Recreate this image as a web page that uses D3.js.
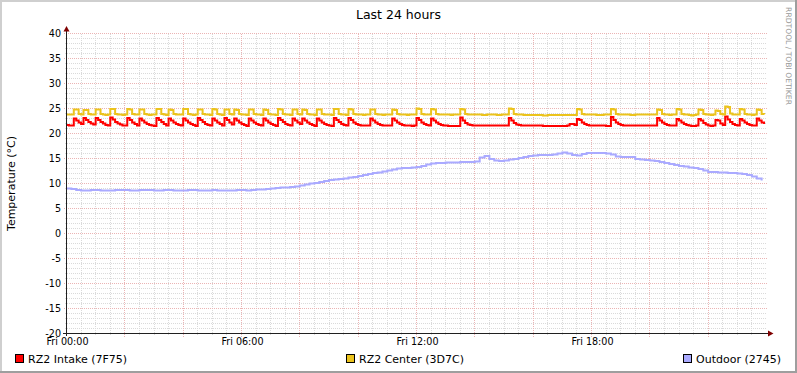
<!DOCTYPE html>
<html>
<head>
<meta charset="utf-8">
<script src="https://cdn.jsdelivr.net/npm/d3@7"></script>
<style>
  body { margin: 0; background: #fff; }
  svg { display: block; font-family: "DejaVu Sans", sans-serif; }
</style>
</head>
<body>
<div id="chart"></div>
<script>
// 5 minute samples, Fri 00:00 .. 23:55
const intake = [
  21.7, 21.6, 21.6, 23.0, 22.6, 22.2, 21.9, 23.1, 22.7, 22.3, 22.0, 21.8,
  23.1, 22.7, 22.3, 22.0, 21.7, 21.6, 23.2, 22.8, 22.3, 22.0, 21.8, 21.6,
  21.6, 23.1, 22.7, 22.2, 21.9, 21.6, 23.0, 22.6, 22.2, 21.9, 21.7, 21.6,
  21.5, 23.1, 22.7, 22.3, 21.9, 21.6, 23.0, 22.6, 22.2, 21.9, 21.7, 21.6,
  23.0, 22.6, 22.2, 21.9, 21.7, 21.5, 23.1, 22.7, 22.3, 21.9, 21.7, 21.6,
  23.0, 22.6, 22.2, 21.9, 21.6, 23.1, 22.7, 22.2, 21.8, 23.0, 22.6, 22.2,
  21.9, 21.7, 21.5, 23.0, 22.6, 22.2, 21.9, 21.7, 21.6, 23.0, 22.6, 22.2,
  21.9, 21.7, 21.5, 23.1, 22.7, 22.3, 21.9, 21.7, 21.6, 23.0, 22.6, 22.2,
  21.9, 23.0, 22.6, 22.2, 21.9, 21.7, 21.5, 23.0, 22.6, 22.2, 21.9, 21.7,
  21.6, 21.5, 23.1, 22.7, 22.3, 21.9, 21.7, 21.6, 23.1, 22.7, 22.2, 21.9,
  21.7, 21.6, 21.6, 21.6, 21.6, 23.0, 22.6, 22.2, 21.9, 21.7, 21.6, 21.6,
  21.6, 21.6, 23.0, 22.6, 22.2, 21.9, 21.7, 21.6, 21.6, 21.6, 21.5, 21.6,
  23.1, 22.7, 22.2, 21.9, 21.7, 21.6, 23.0, 22.6, 22.2, 21.9, 21.7, 21.6,
  21.6, 21.5, 21.5, 21.5, 21.5, 21.5, 23.2, 22.6, 22.1, 21.8, 21.7, 21.6,
  21.6, 21.6, 21.6, 21.6, 21.6, 21.6, 21.6, 21.6, 21.6, 21.6, 21.6, 21.6,
  21.6, 21.6, 23.1, 22.6, 22.1, 21.8, 21.7, 21.6, 21.6, 21.6, 21.6, 21.6,
  21.6, 21.6, 21.6, 21.6, 21.5, 21.5, 21.5, 21.5, 21.5, 21.5, 21.5, 21.5,
  21.5, 21.5, 21.6, 21.9, 21.9, 21.7, 22.9, 22.7, 22.2, 21.9, 21.7, 21.6,
  21.6, 21.6, 21.6, 21.6, 21.6, 21.6, 21.5, 21.5, 23.3, 22.7, 22.2, 21.9,
  21.7, 21.6, 21.6, 21.6, 21.6, 21.6, 21.6, 21.6, 21.6, 21.6, 21.6, 21.6,
  21.6, 21.6, 21.6, 23.1, 22.6, 22.2, 21.9, 21.7, 21.6, 21.6, 21.6, 22.9,
  22.6, 22.2, 21.9, 21.7, 21.6, 21.5, 21.5, 21.6, 22.9, 22.6, 22.1, 21.8,
  21.6, 21.5, 21.6, 22.7, 22.6, 22.0, 21.7, 23.4, 22.8, 22.3, 21.9, 21.7,
  21.6, 22.9, 22.6, 22.2, 21.9, 21.7, 21.6, 21.6, 23.0, 22.6, 22.2, 21.9
];

const center = [
  23.8, 23.8, 23.8, 24.8, 24.8, 23.9, 23.8, 24.7, 24.7, 23.9, 23.8, 23.8,
  24.8, 24.8, 23.9, 23.8, 23.7, 23.8, 24.9, 24.9, 23.9, 23.8, 23.8, 23.7,
  23.8, 24.9, 24.8, 23.9, 23.8, 23.8, 24.8, 24.8, 23.9, 23.8, 23.7, 23.8,
  23.8, 24.9, 24.9, 23.9, 23.8, 23.7, 24.8, 24.7, 23.9, 23.8, 23.8, 23.8,
  24.9, 24.9, 23.9, 23.8, 23.7, 23.8, 24.8, 24.8, 23.9, 23.8, 23.8, 23.7,
  24.9, 24.8, 23.9, 23.8, 23.7, 24.8, 24.8, 23.9, 23.8, 24.8, 24.7, 23.9,
  23.8, 23.8, 23.7, 24.8, 24.8, 23.9, 23.8, 23.8, 23.7, 24.8, 24.7, 23.9,
  23.8, 23.8, 23.7, 24.9, 24.8, 23.9, 23.8, 23.8, 23.7, 24.8, 24.8, 23.9,
  23.8, 24.8, 24.7, 23.9, 23.8, 23.8, 23.7, 24.8, 24.8, 23.9, 23.8, 23.8,
  23.8, 23.7, 24.9, 24.9, 23.9, 23.8, 23.8, 23.7, 24.9, 24.8, 23.9, 23.8,
  23.8, 23.8, 23.7, 23.8, 23.8, 24.8, 24.8, 23.9, 23.8, 23.8, 23.7, 23.8,
  23.8, 23.8, 24.8, 24.7, 23.9, 23.8, 23.8, 23.8, 23.7, 23.8, 23.8, 23.8,
  25.0, 24.9, 23.9, 23.8, 23.8, 23.8, 24.9, 24.8, 23.9, 23.8, 23.8, 23.8,
  23.8, 23.8, 23.7, 23.8, 23.8, 23.8, 24.9, 24.8, 23.9, 23.8, 23.8, 23.8,
  23.8, 23.8, 23.8, 23.7, 23.7, 23.8, 23.8, 23.8, 23.8, 23.7, 23.7, 23.8,
  23.8, 23.8, 25.0, 24.9, 23.9, 23.8, 23.8, 23.8, 23.7, 23.7, 23.7, 23.7,
  23.7, 23.7, 23.7, 23.7, 23.6, 23.6, 23.7, 23.7, 23.7, 23.7, 23.7, 23.7,
  23.7, 23.7, 23.7, 23.7, 23.7, 23.7, 24.9, 24.8, 23.9, 23.8, 23.8, 23.8,
  23.8, 23.8, 23.7, 23.7, 23.7, 23.8, 23.8, 23.8, 24.9, 24.8, 23.9, 23.8,
  23.8, 23.8, 23.8, 23.8, 23.7, 23.7, 23.8, 23.8, 23.8, 23.8, 23.8, 23.8,
  23.8, 23.8, 23.8, 24.8, 24.7, 23.9, 23.8, 23.8, 23.7, 23.8, 23.8, 24.9,
  24.8, 23.9, 23.8, 23.8, 23.7, 23.6, 23.7, 23.8, 24.8, 24.7, 23.9, 23.8,
  23.8, 23.7, 23.8, 24.6, 24.5, 23.9, 23.8, 25.4, 25.3, 24.0, 23.8, 23.8,
  23.8, 24.9, 24.8, 23.9, 23.8, 23.8, 23.7, 23.8, 24.8, 24.7, 23.9, 23.8
];

// 10 minute samples
const outdoor = [
  9.0, 8.9, 8.7, 8.6, 8.6, 8.7, 8.7, 8.6, 8.6, 8.6, 8.7, 8.7,
  8.7, 8.6, 8.6, 8.7, 8.7, 8.7, 8.6, 8.6, 8.7, 8.7, 8.6, 8.6,
  8.6, 8.7, 8.7, 8.6, 8.6, 8.6, 8.7, 8.6, 8.6, 8.6, 8.6, 8.7,
  8.7, 8.6, 8.7, 8.8, 8.8, 8.9, 9.0, 9.1, 9.2, 9.2, 9.3, 9.4,
  9.6, 9.8, 10.0, 10.1, 10.3, 10.5, 10.7, 10.8, 10.9, 11.0, 11.2, 11.3,
  11.5, 11.7, 11.9, 12.1, 12.2, 12.4, 12.6, 12.8, 13.0, 13.1, 13.1, 13.2,
  13.3, 13.5, 13.8, 14.0, 14.1, 14.1, 14.2, 14.2, 14.2, 14.3, 14.3, 14.3,
  14.4, 15.2, 15.5, 14.9, 14.6, 14.5, 14.6, 14.8, 14.9, 15.1, 15.3, 15.5,
  15.6, 15.7, 15.7, 15.7, 15.8, 16.0, 16.2, 16.0, 15.7, 15.6, 15.9, 16.1,
  16.1, 16.1, 16.1, 16.0, 15.8, 15.4, 15.3, 15.3, 15.3, 14.9, 14.8, 14.7,
  14.6, 14.5, 14.3, 14.1, 13.9, 13.7, 13.5, 13.4, 13.2, 13.1, 12.9, 12.6,
  12.3, 12.3, 12.2, 12.2, 12.1, 12.1, 12.0, 11.9, 11.7, 11.4, 11.0, 10.6
];

const seriesNames = ["RZ2 Intake (7F75)", "RZ2 Center (3D7C)", "Outdoor (2745)"];
const seriesColors = ["#ff0000", "#ebc31c", "#aaaaff"];
const seriesData = [intake, center, outdoor];
const seriesStep = [5, 5, 10]; // minutes per sample
const yTicks = [-20, -15, -10, -5, 0, 5, 10, 15, 20, 25, 30, 35, 40];
const title = "Last 24 hours";
const yTitle = "Temperature (°C)";

const width = 797, height = 373;
const start = new Date(2013, 2, 15, 0, 0);
const end = d3.timeHour.offset(start, 24);

const x = d3.scaleTime().domain([start, end]).range([66.5, 766.5]);
const y = d3.scaleLinear().domain([-20, 40]).range([333.5, 33.5]);
const px = (v) => Math.round(v - 0.5) + 0.5;

const svg = d3.select("#chart").append("svg")
  .attr("width", width)
  .attr("height", height);

svg.append("rect").attr("width", width).attr("height", height).attr("fill", "#fff");
// frame shading
svg.append("path").attr("d", `M1,${height} V1 H${width}`).attr("stroke", "#cfcfcf").attr("stroke-width", 2).attr("fill", "none");
svg.append("path").attr("d", `M0,${height - 1} H${width - 1} V0`).attr("stroke", "#9e9e9e").attr("stroke-width", 2).attr("fill", "none");

const grid = svg.append("g").attr("shape-rendering", "crispEdges");
const minorColor = "#dadada", majorColor = "#ebb4b4";

// minor grid
const minorY = d3.range(-20, 41).filter((v) => v % 5 !== 0);
grid.selectAll("line.hmin").data(minorY).join("line")
  .attr("x1", 64.5).attr("x2", 766.5)
  .attr("y1", (d) => px(y(d))).attr("y2", (d) => px(y(d)))
  .attr("stroke", minorColor).attr("stroke-dasharray", "1,1");

const minorX = d3.timeMinute.every(30).range(start, end).filter((d) => d.getMinutes() !== 0 || d.getHours() % 2 !== 0);
grid.selectAll("line.vmin").data(minorX).join("line")
  .attr("x1", (d) => px(x(d))).attr("x2", (d) => px(x(d)))
  .attr("y1", 33.5).attr("y2", 335.5)
  .attr("stroke", minorColor).attr("stroke-dasharray", "1,1");

// major grid
grid.selectAll("line.hmaj").data(yTicks).join("line")
  .attr("x1", 63.5).attr("x2", 766.5)
  .attr("y1", (d) => px(y(d))).attr("y2", (d) => px(y(d)))
  .attr("stroke", majorColor).attr("stroke-dasharray", "1,1");

const majorX = d3.timeHour.every(2).range(start, end).slice(1);
grid.selectAll("line.vmaj").data(majorX).join("line")
  .attr("x1", (d) => px(x(d))).attr("x2", (d) => px(x(d)))
  .attr("y1", 33.5).attr("y2", 336.5)
  .attr("stroke", majorColor).attr("stroke-dasharray", "1,1");

// lines
const plot = svg.append("g");
seriesData.forEach((vals, k) => {
  const line = d3.line()
    .x((d, i) => x(d3.timeMinute.offset(start, i * seriesStep[k])))
    .y((d) => y(d))
    .curve(d3.curveStepAfter);
  plot.append("path")
    .datum(vals)
    .attr("d", line)
    .attr("fill", "none")
    .attr("stroke", seriesColors[k])
    .attr("stroke-width", 2);
});

// axes
const axes = svg.append("g").attr("shape-rendering", "crispEdges");
axes.append("line").attr("x1", 66.5).attr("x2", 66.5).attr("y1", 336).attr("y2", 30).attr("stroke", "#202020");
axes.append("line").attr("x1", 63).attr("x2", 770).attr("y1", 333.5).attr("y2", 333.5).attr("stroke", "#202020");
svg.append("path").attr("d", "M63.5,31.5 L69.5,31.5 L66.5,26 Z").attr("fill", "#7f0000");
svg.append("path").attr("d", "M768,330.5 L768,336.5 L773.5,333.5 Z").attr("fill", "#7f0000");

// tick labels
svg.append("g").selectAll("text").data(yTicks).join("text")
  .attr("x", 61)
  .attr("y", (d) => y(d))
  .attr("dy", "0.35em")
  .attr("text-anchor", "end")
  .attr("font-size", "9.6px")
  .text((d) => d);

const fmt = d3.timeFormat("%a %H:%M");
svg.append("g").selectAll("text").data(d3.timeHour.every(6).range(start, end)).join("text")
  .attr("x", (d) => x(d) + 1)
  .attr("y", 345)
  .attr("text-anchor", "middle")
  .attr("font-size", "9.6px")
  .text((d) => fmt(d));

svg.append("text")
  .attr("x", width / 2).attr("y", 19)
  .attr("text-anchor", "middle")
  .attr("font-size", "12.5px")
  .text(title);

svg.append("text")
  .attr("transform", `translate(15,${y(10)}) rotate(-90)`)
  .attr("text-anchor", "middle")
  .attr("font-size", "11px")
  .text(yTitle);

svg.append("text")
  .attr("transform", "translate(786,56) rotate(90)")
  .attr("text-anchor", "middle")
  .attr("font-size", "7.6px")
  .attr("fill", "#999")
  .text("RRDTOOL / TOBI OETIKER");

// legend, justified across the width
const legend = svg.append("g");
const items = seriesNames.map((name, k) => {
  const g = legend.append("g");
  g.append("rect")
    .attr("x", 0.5).attr("y", 354.5).attr("width", 8).attr("height", 8)
    .attr("fill", seriesColors[k]).attr("stroke", "#000")
    .attr("shape-rendering", "crispEdges");
  const t = g.append("text").attr("x", 13).attr("y", 363).attr("font-size", "11px").text(name);
  return { g, w: 13 + t.node().getComputedTextLength() };
});
const left = 15, right = 781;
const total = d3.sum(items, (d) => d.w);
const gap = (right - left - total) / (items.length - 1);
let cx = left;
items.forEach((it) => {
  it.g.attr("transform", `translate(${Math.round(cx)},0)`);
  cx += it.w + gap;
});
</script>
</body>
</html>
